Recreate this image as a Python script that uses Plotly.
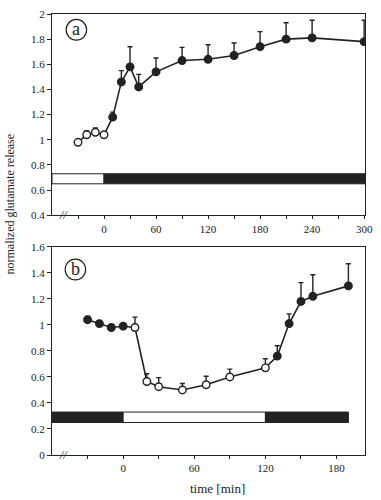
import plotly.graph_objects as go

# ---------------- data ----------------
# panel a
a_open_t = [-30, -20, -10, 0]
a_open_v = [0.98, 1.04, 1.06, 1.04]
a_open_e = [0.015, 0.03, 0.035, 0.015]

a_fill_t = [10, 20, 30, 40, 60, 90, 120, 150, 180, 210, 240, 300]
a_fill_v = [1.18, 1.46, 1.58, 1.42, 1.54, 1.63, 1.64, 1.67, 1.74, 1.80, 1.81, 1.78]
a_fill_e = [0.04, 0.09, 0.16, 0.10, 0.11, 0.105, 0.115, 0.10, 0.12, 0.13, 0.14, 0.17]

a_bar_open = [-60, 0]
a_bar_fill = [0, 301]
a_bar_y = [0.65, 0.73]

# panel b
b_fill1_t = [-30, -20, -10, 0]
b_fill1_v = [1.04, 1.01, 0.98, 0.99]
b_fill1_e = [0.025, 0.012, 0.012, 0.012]

b_open_t = [10, 20, 30, 50, 70, 90, 120]
b_open_v = [0.98, 0.565, 0.525, 0.50, 0.54, 0.60, 0.67]
b_open_e = [0.08, 0.06, 0.07, 0.05, 0.065, 0.06, 0.07]

b_fill2_t = [130, 140, 150, 160, 190]
b_fill2_v = [0.76, 1.01, 1.18, 1.22, 1.30]
b_fill2_e = [0.08, 0.075, 0.145, 0.165, 0.17]

b_bar_fill1 = [-60, 0]
b_bar_open = [0, 120]
b_bar_fill2 = [120, 190]
b_bar_y = [0.25, 0.33]

a_ticks = list(range(-30, 301, 30))
a_labels = [str(t) if (t >= 0 and t % 60 == 0) else "" for t in a_ticks]
b_ticks = list(range(-30, 181, 30))
b_labels = [str(t) if (t >= 0 and t % 60 == 0) else "" for t in b_ticks]
a_yticks = [0.4, 0.6, 0.8, 1, 1.2, 1.4, 1.6, 1.8, 2]
b_yticks = [0, 0.2, 0.4, 0.6, 0.8, 1, 1.2, 1.4, 1.6]

# ---------------- style ----------------
W, H = 381, 500
ML, MR, MT, MB = 52, 8, 8, 45
PW, PH = W - ML - MR, H - MT - MB
INK = "#222222"
FONT = "Liberation Serif, Times New Roman, serif"


def px(x):
    return (x - ML) / PW


def py(y):
    return (H - MB - y) / PH


fig = go.Figure()


def add_series(xref, yref, t_all, v_all, groups):
    fig.add_trace(go.Scatter(x=t_all, y=v_all, mode="lines", xaxis=xref, yaxis=yref,
                             line=dict(color=INK, width=1.6), showlegend=False, hoverinfo="skip"))
    for t, v, e, filled in groups:
        fig.add_trace(go.Scatter(
            x=t, y=v, mode="markers", xaxis=xref, yaxis=yref, showlegend=False,
            error_y=dict(type="data", symmetric=False, array=e, arrayminus=[0] * len(e),
                         color=INK, thickness=1.4, width=2.5),
            marker=dict(size=7.5, color=INK if filled else "white",
                        line=dict(color=INK, width=1.4))))


add_series("x", "y", a_open_t + a_fill_t, a_open_v + a_fill_v,
           [(a_open_t, a_open_v, a_open_e, False), (a_fill_t, a_fill_v, a_fill_e, True)])
add_series("x2", "y2", b_fill1_t + b_open_t + b_fill2_t, b_fill1_v + b_open_v + b_fill2_v,
           [(b_fill1_t, b_fill1_v, b_fill1_e, True), (b_open_t, b_open_v, b_open_e, False),
            (b_fill2_t, b_fill2_v, b_fill2_e, True)])

shapes = []


def bar(xr, yr, seg, ys, filled):
    shapes.append(dict(type="rect", xref=xr, yref=yr, x0=seg[0], x1=seg[1], y0=ys[0], y1=ys[1],
                       fillcolor=INK if filled else "white", line=dict(color=INK, width=1)))


bar("x", "y", a_bar_open, a_bar_y, False)
bar("x", "y", a_bar_fill, a_bar_y, True)
bar("x2", "y2", b_bar_fill1, b_bar_y, True)
bar("x2", "y2", b_bar_open, b_bar_y, False)
bar("x2", "y2", b_bar_fill2, b_bar_y, True)

# circled panel letters
letters = [("a", 77, 24), ("b", 76, 267)]
annotations = []
for txt, cx, cy in letters:
    shapes.append(dict(type="circle", xref="paper", yref="paper",
                       x0=px(cx - 10.5), x1=px(cx + 10.5), y0=py(cy + 10.5), y1=py(cy - 10.5),
                       line=dict(color=INK, width=1.2)))
    annotations.append(dict(text=txt, x=px(cx), y=py(cy - 1), xref="paper", yref="paper",
                            showarrow=False, xanchor="center", yanchor="middle",
                            font=dict(family=FONT, size=18, color=INK)))

annotations += [
    dict(text="normalized glutamate release", x=px(9), y=py(201), xref="paper", yref="paper",
         showarrow=False, textangle=-90, xanchor="center", yanchor="middle",
         font=dict(family=FONT, size=12, color=INK)),
    dict(text="time [min]", x=px(222), y=py(489), xref="paper", yref="paper", showarrow=False,
         xanchor="center", yanchor="middle", font=dict(family=FONT, size=13, color=INK)),
    dict(text="<i>//</i>", x=px(64), y=py(212), xref="paper", yref="paper", showarrow=False,
         xanchor="center", yanchor="middle", font=dict(family=FONT, size=12, color=INK)),
    dict(text="<i>//</i>", x=px(64), y=py(455), xref="paper", yref="paper", showarrow=False,
         xanchor="center", yanchor="middle", font=dict(family=FONT, size=12, color=INK)),
]

axis_common = dict(showline=True, linecolor=INK, linewidth=1.2, mirror=True, showgrid=False,
                   zeroline=False, ticks="outside", ticklen=3, tickcolor=INK,
                   tickfont=dict(family=FONT, size=11, color=INK))

fig.update_layout(
    width=W, height=H, margin=dict(l=ML, r=MR, t=MT, b=MB),
    plot_bgcolor="white", paper_bgcolor="white", showlegend=False,
    xaxis=dict(axis_common, range=[-60, 301], tickvals=a_ticks, ticktext=a_labels,
               anchor="y", domain=[0, 1]),
    yaxis=dict(axis_common, range=[0.4, 2], tickvals=a_yticks, ticklen=4,
               domain=[py(212), 1], anchor="x"),
    xaxis2=dict(axis_common, range=[-60, 204], tickvals=b_ticks, ticktext=b_labels,
                anchor="y2", domain=[0, 1]),
    yaxis2=dict(axis_common, range=[0, 1.6], tickvals=b_yticks, ticklen=4,
                domain=[0, py(244)], anchor="x2"),
    shapes=shapes, annotations=annotations,
)

fig.write_html("out.html", config={"displayModeBar": False},
               post_script="document.body.style.margin='0';")
